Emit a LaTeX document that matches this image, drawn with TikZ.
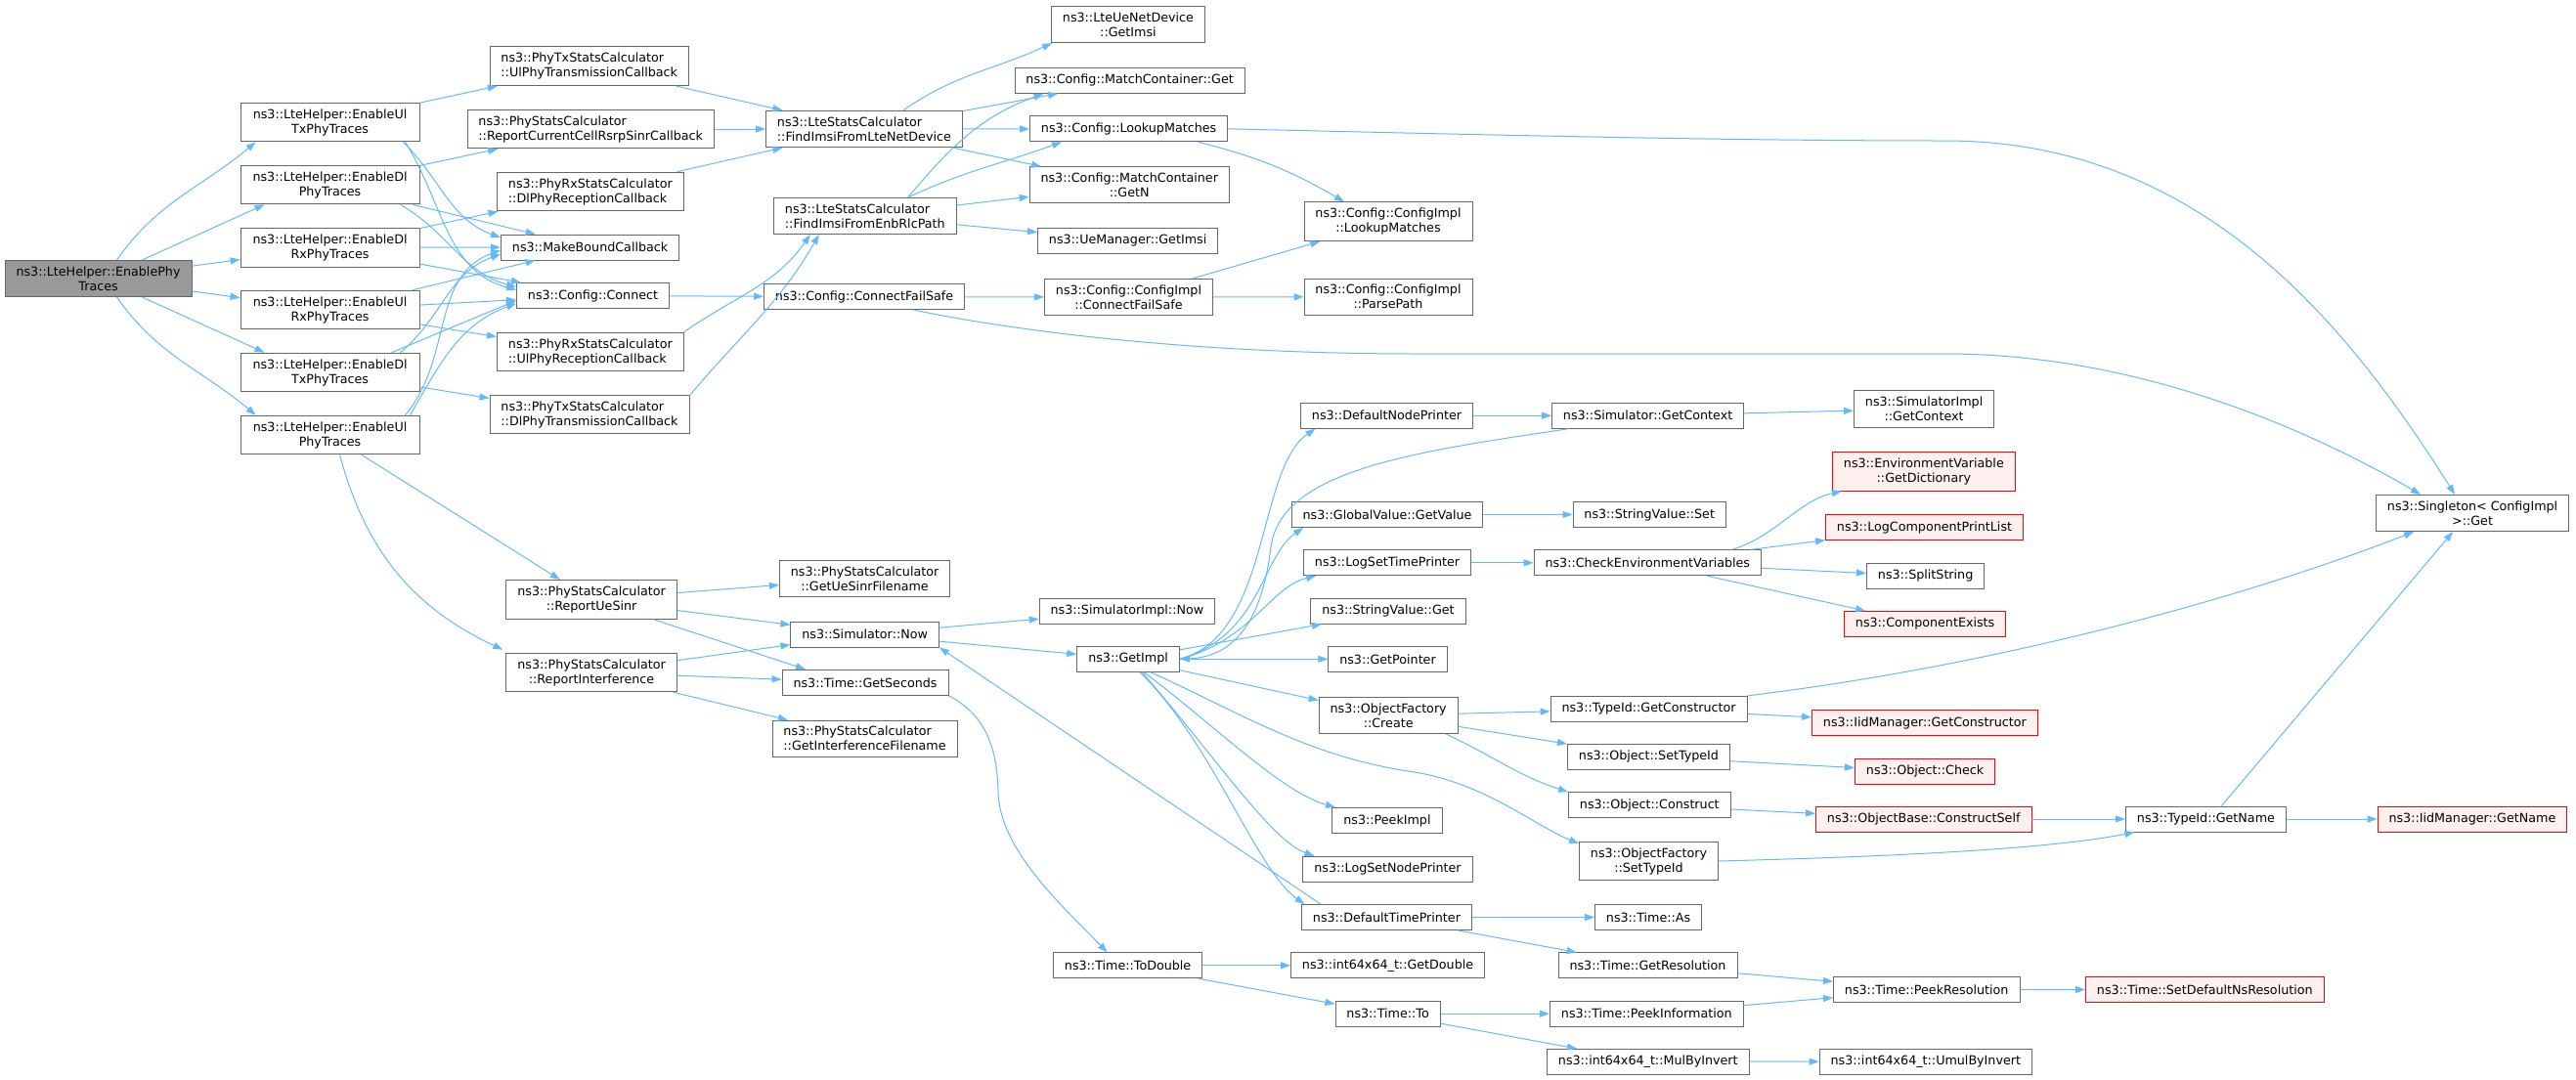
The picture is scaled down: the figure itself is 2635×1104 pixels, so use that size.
\documentclass[tikz,border=0pt]{standalone}
\usepackage{fontspec}
\setmainfont{DejaVu Sans}
\usetikzlibrary{arrows.meta}
\definecolor{edgeblue}{HTML}{63B8FF}
\definecolor{boxgray}{HTML}{666666}
\definecolor{rootgray}{HTML}{999999}
\definecolor{redfill}{HTML}{FFF0F0}

\begin{document}
\begin{tikzpicture}[x=1pt,y=-1pt,
	fn/.style={draw=boxgray,line width=0.9pt,fill=white,anchor=west,align=center,
		inner xsep=11.5pt,inner ysep=6.2pt,minimum height=26pt,font=\fontsize{12.7}{15}\selectfont},
	fnroot/.style={fn,fill=rootgray},
	fnred/.style={fn,draw=red,fill=redfill},
	call/.style={draw=edgeblue,line width=1pt,-{Triangle[length=10pt,width=7pt]}}]
	\useasboundingbox (0,0) rectangle (2635,1104);
	
	\node[fnroot] (root) at (4.6,285) {ns3::LteHelper::EnablePhy\\Traces};
	\node[fn,minimum width=183pt] (ultx) at (245.6,125) {ns3::LteHelper::EnableUl\\TxPhyTraces};
	\node[fn,minimum width=183pt] (dlphy) at (245.6,189) {ns3::LteHelper::EnableDl\\PhyTraces};
	\node[fn,minimum width=183pt] (dlrx) at (245.6,253.3) {ns3::LteHelper::EnableDl\\RxPhyTraces};
	\node[fn,minimum width=183pt] (ulrx) at (245.6,317) {ns3::LteHelper::EnableUl\\RxPhyTraces};
	\node[fn,minimum width=183pt] (dltx) at (245.6,381) {ns3::LteHelper::EnableDl\\TxPhyTraces};
	\node[fn,minimum width=183pt] (ulphy) at (245.6,445) {ns3::LteHelper::EnableUl\\PhyTraces};
	
	\node[fn,align=left] (txul) at (500.5,67.7) {ns3::PhyTxStatsCalculator\\::UlPhyTransmissionCallback};
	\node[fn,align=left] (rsrp) at (477.5,132) {ns3::PhyStatsCalculator\\::ReportCurrentCellRsrpSinrCallback};
	\node[fn,align=left] (rxdl) at (508,196) {ns3::PhyRxStatsCalculator\\::DlPhyReceptionCallback};
	\node[fn] (mkcb) at (512,253) {ns3::MakeBoundCallback};
	\node[fn] (connect) at (528,302.5) {ns3::Config::Connect};
	\node[fn,align=left] (rxul) at (508,360) {ns3::PhyRxStatsCalculator\\::UlPhyReceptionCallback};
	\node[fn,align=left] (txdl) at (500.5,424) {ns3::PhyTxStatsCalculator\\::DlPhyTransmissionCallback};
	\node[fn] (uesinr) at (517.4,613.3) {ns3::PhyStatsCalculator\\::ReportUeSinr};
	\node[fn] (interf) at (517.4,688) {ns3::PhyStatsCalculator\\::ReportInterference};
	
	\node[fn,align=left] (fromdev) at (783,132) {ns3::LteStatsCalculator\\::FindImsiFromLteNetDevice};
	\node[fn,align=left] (fromrlc) at (791,221) {ns3::LteStatsCalculator\\::FindImsiFromEnbRlcPath};
	\node[fn] (failsafe) at (781,303.7) {ns3::Config::ConnectFailSafe};
	\node[fn] (sinrfile) at (796.9,591.8) {ns3::PhyStatsCalculator\\::GetUeSinrFilename};
	\node[fn] (simnow) at (808.4,649) {ns3::Simulator::Now};
	\node[fn] (seconds) at (799.6,698.3) {ns3::Time::GetSeconds};
	\node[fn,align=left] (interffile) at (789.5,755.7) {ns3::PhyStatsCalculator\\::GetInterferenceFilename};
	
	\node[fn] (ueimsi) at (1075,25) {ns3::LteUeNetDevice\\::GetImsi};
	\node[fn] (mcget) at (1037.5,82.3) {ns3::Config::MatchContainer::Get};
	\node[fn] (lookup) at (1053,131.8) {ns3::Config::LookupMatches};
	\node[fn] (mcgetn) at (1052.6,189.3) {ns3::Config::MatchContainer\\::GetN};
	\node[fn] (umimsi) at (1061,246.3) {ns3::UeManager::GetImsi};
	\node[fn] (cifailsafe) at (1068,304) {ns3::Config::ConfigImpl\\::ConnectFailSafe};
	\node[fn] (implnow) at (1062.7,625.2) {ns3::SimulatorImpl::Now};
	\node[fn] (getimpl) at (1101.3,674.3) {ns3::GetImpl};
	\node[fn] (todouble) at (1077,987.8) {ns3::Time::ToDouble};
	
	\node[fn] (cilookup) at (1333.5,226.7) {ns3::Config::ConfigImpl\\::LookupMatches};
	\node[fn] (parsepath) at (1333.5,303.7) {ns3::Config::ConfigImpl\\::ParsePath};
	\node[fn] (nodeprinter) at (1330,425.2) {ns3::DefaultNodePrinter};
	\node[fn] (getvalue) at (1320.7,526.5) {ns3::GlobalValue::GetValue};
	\node[fn] (settimeprinter) at (1333,575.8) {ns3::LogSetTimePrinter};
	\node[fn] (strget) at (1340.4,625.2) {ns3::StringValue::Get};
	\node[fn] (getpointer) at (1358.3,674.3) {ns3::GetPointer};
	\node[fn] (ofcreate) at (1348.7,732) {ns3::ObjectFactory\\::Create};
	\node[fn] (peekimpl) at (1362.4,839.5) {ns3::PeekImpl};
	\node[fn] (setnodeprinter) at (1332.4,889.2) {ns3::LogSetNodePrinter};
	\node[fn] (timeprinter) at (1331,938.5) {ns3::DefaultTimePrinter};
	\node[fn] (getdouble) at (1320,987.8) {ns3::int64x64\_t::GetDouble};
	\node[fn] (timeto) at (1365.5,1037.2) {ns3::Time::To};
	
	\node[fn] (getcontext) at (1587,425.2) {ns3::Simulator::GetContext};
	\node[fn] (strset) at (1608.5,526.5) {ns3::StringValue::Set};
	\node[fn] (checkenv) at (1568.6,575.8) {ns3::CheckEnvironmentVariables};
	\node[fn] (getctor) at (1585.6,725.3) {ns3::TypeId::GetConstructor};
	\node[fn] (settypeid) at (1603,774.3) {ns3::Object::SetTypeId};
	\node[fn] (construct) at (1604,823.7) {ns3::Object::Construct};
	\node[fn] (ofsettypeid) at (1615,881) {ns3::ObjectFactory\\::SetTypeId};
	\node[fn] (timeas) at (1631,938.5) {ns3::Time::As};
	\node[fn] (getres) at (1593.6,987.8) {ns3::Time::GetResolution};
	\node[fn] (peekinfo) at (1585,1037.2) {ns3::Time::PeekInformation};
	\node[fn] (mulinv) at (1582,1086.3) {ns3::int64x64\_t::MulByInvert};
	
	\node[fn] (implctx) at (1896,418.4) {ns3::SimulatorImpl\\::GetContext};
	\node[fnred] (getdict) at (1874,482.3) {ns3::EnvironmentVariable\\::GetDictionary};
	\node[fnred] (printlist) at (1867,539.7) {ns3::LogComponentPrintList};
	\node[fn] (split) at (1909,589.3) {ns3::SplitString};
	\node[fnred] (exists) at (1886,638.4) {ns3::ComponentExists};
	\node[fnred] (iidctor) at (1853,739.7) {ns3::IidManager::GetConstructor};
	\node[fnred] (check) at (1897,789.3) {ns3::Object::Check};
	\node[fnred] (constructself) at (1857,838) {ns3::ObjectBase::ConstructSelf};
	\node[fn,anchor=east] (peekres) at (2066.4,1012.5) {ns3::Time::PeekResolution};
	\node[fn,anchor=east] (umulinv) at (2079,1086) {ns3::int64x64\_t::UmulByInvert};
	
	\node[fn] (getname) at (2174,838) {ns3::TypeId::GetName};
	\node[fnred] (setdefres) at (2133,1012.5) {ns3::Time::SetDefaultNsResolution};
	\node[fn] (singleton) at (2430,525) {ns3::Singleton< ConfigImpl\\>::Get};
	\node[fnred] (iidname) at (2431.6,838) {ns3::IidManager::GetName};
	
	% EnablePhyTraces
	\draw[call] ([xshift=19pt]root.north) to[out=55,in=-140] ([xshift=16pt]ultx.south west);
	\draw[call] ([xshift=45pt]root.north) -- ([xshift=25pt]dlphy.south west);
	\draw[call] (root) -- (dlrx);
	\draw[call] (root) -- (ulrx);
	\draw[call] ([xshift=45pt]root.south) -- ([xshift=25pt]dltx.north west);
	\draw[call] ([xshift=19pt]root.south) to[out=-55,in=140] ([xshift=16pt]ulphy.north west);
	
	% EnableXxPhyTraces
	\draw[call] (ultx) -- (txul);
	\draw[call] ([xshift=-17pt]ultx.south east) to[out=-45,in=160] ([yshift=10pt]mkcb.west);
	\draw[call] ([xshift=-15pt]ultx.south east) to[out=-58,in=165] ([yshift=6pt]connect.west);
	\draw[call] (dlphy) -- (rsrp);
	\draw[call] (dlphy) -- (mkcb);
	\draw[call] ([xshift=-20pt]dlphy.south east) to[out=-30,in=165] ([yshift=9pt]connect.west);
	\draw[call] (dlrx) -- (rxdl);
	\draw[call] (dlrx) -- (mkcb);
	\draw[call] (dlrx) -- (connect);
	\draw[call] (ulrx) -- (mkcb);
	\draw[call] (ulrx) -- (connect);
	\draw[call] (ulrx) -- (rxul);
	\draw[call] ([xshift=-20pt]dltx.north east) to[out=40,in=-160] ([yshift=-7pt]mkcb.west);
	\draw[call] ([xshift=-29pt]dltx.north east) -- ([yshift=-5pt]connect.west);
	\draw[call] (dltx) -- (txdl);
	\draw[call] ([xshift=-15pt]ulphy.north east) to[out=50,in=-160] ([yshift=-3pt]mkcb.west);
	\draw[call] ([xshift=-10pt]ulphy.north east) to[out=60,in=-160] ([yshift=-8pt]connect.west);
	\draw[call] (ulphy) -- (uesinr);
	\draw[call] ([xshift=10pt]ulphy.south) to[out=-75,in=155] ([xshift=-3pt,yshift=3pt]interf.north west);
	
	% callbacks
	\draw[call] (txul) -- (fromdev);
	\draw[call] (rsrp) -- (fromdev);
	\draw[call] (rxdl) -- (fromdev);
	\draw[call] (rxul.north east) to[out=35,in=-125] ([xshift=-56pt]fromrlc.south);
	\draw[call] ([yshift=-1pt]txdl.north east) to[out=50,in=-120] ([xshift=-47pt]fromrlc.south);
	\draw[call] (connect) -- (failsafe);
	
	% LteStatsCalculator
	\draw[call] ([xshift=40pt]fromdev.north) to[out=35,in=-155] ([xshift=1pt]ueimsi.south west);
	\draw[call] (fromdev) -- (mcget);
	\draw[call] (fromdev) -- (lookup);
	\draw[call] (fromdev) -- (mcgetn);
	\draw[call] ([xshift=44pt]fromrlc.north) to[out=50,in=-160] ([xshift=30pt]mcget.south west);
	\draw[call] ([xshift=44pt]fromrlc.north) to[out=25,in=-160] ([xshift=33pt]lookup.south west);
	\draw[call] (fromrlc) -- (mcgetn);
	\draw[call] (fromrlc) -- (umimsi);
	
	% Config
	\draw[call] (lookup.east) .. controls (1600,140) and (1800,144) .. (1990,144)
		.. controls (2250,144) and (2400,330) .. ([xshift=-18pt]singleton.north);
	\draw[call] ([xshift=71pt]lookup.south) to[bend left=8] ([xshift=-45pt]cilookup.north);
	\draw[call] (failsafe) -- (cifailsafe);
	\draw[call] ([xshift=51pt]failsafe.south) .. controls (1020,335) and (1200,362) .. (1450,362)
		-- (1990,362) .. controls (2200,362) and (2380,450) .. ([xshift=-53pt]singleton.north);
	\draw[call] (cifailsafe) -- (cilookup);
	\draw[call] (cifailsafe) -- (parsepath);
	
	% PhyStatsCalculator
	\draw[call] (uesinr) -- (sinrfile);
	\draw[call] (uesinr) -- (simnow);
	\draw[call] ([xshift=63pt]uesinr.south) -- ([xshift=-61pt]seconds.north);
	\draw[call] (interf) -- (simnow);
	\draw[call] (interf) -- (seconds);
	\draw[call] (interf) -- (interffile);
	
	% Simulator::Now, GetImpl
	\draw[call] (simnow) -- (implnow);
	\draw[call] (simnow) -- (getimpl);
	\draw[call] (seconds.south east) .. controls (1005,730) and (1020,760) .. (1021,810)
		.. controls (1022,870) and (1090,930) .. ([xshift=-21pt]todouble.north);
	\draw[call] (getimpl.east) .. controls (1300,650) and (1285,480) .. ([xshift=-73pt]nodeprinter.south);
	\draw[call] (getimpl.east) .. controls (1290,650) and (1290,570) .. ([xshift=-86pt]getvalue.south);
	\draw[call] (getimpl.east) .. controls (1280,655) and (1300,600) .. ([xshift=-73pt]settimeprinter.south);
	\draw[call] (getimpl) -- ([xshift=-68pt]strget.south);
	\draw[call] (getimpl) -- (getpointer);
	\draw[call] (getimpl) -- (ofcreate);
	\draw[call] ([xshift=23pt]getimpl.south) .. controls (1270,730) and (1340,775) .. (1447,790)
		.. controls (1520,802) and (1570,845) .. ([yshift=18pt]ofsettypeid.west);
	\draw[call] ([xshift=16pt]getimpl.south) .. controls (1240,740) and (1310,810) .. ([xshift=-53pt]peekimpl.north);
	\draw[call] ([xshift=14pt]getimpl.south) .. controls (1240,770) and (1300,860) .. ([xshift=-75pt]setnodeprinter.north);
	\draw[call] ([xshift=12pt]getimpl.south) .. controls (1240,760) and (1285,890) .. ([xshift=-84pt]timeprinter.north);
	
	% printers
	\draw[call] (nodeprinter) -- (getcontext);
	\draw[call] (getcontext) -- (implctx);
	\draw[call] ([xshift=-81pt]getcontext.south) .. controls (1450,462) and (1310,480) .. (1300,560)
		.. controls (1290,640) and (1260,672) .. (getimpl.east);
	\draw[call] (getvalue) -- (strset);
	\draw[call] (settimeprinter) -- (checkenv);
	\draw[call] ([xshift=86pt]checkenv.north) .. controls (1815,550) and (1840,512) .. ([xshift=-84pt]getdict.south);
	\draw[call] (checkenv) -- (printlist);
	\draw[call] (checkenv) -- (split);
	\draw[call] (checkenv) -- (exists);
	
	% ObjectFactory, TypeId
	\draw[call] (ofcreate) -- (getctor);
	\draw[call] (ofcreate) -- (settypeid);
	\draw[call] ([xshift=59pt]ofcreate.south) to[out=-25,in=162] (construct.north west);
	\draw[call] (getctor.north east) .. controls (2050,680) and (2300,610) .. ([xshift=-60pt]singleton.south);
	\draw[call] (getctor) -- (iidctor);
	\draw[call] (settypeid) -- (check);
	\draw[call] (construct) -- (constructself);
	\draw[call] (constructself) -- (getname);
	\draw[call] (ofsettypeid.east) .. controls (1950,876) and (2100,868) .. ([xshift=-73pt]getname.south);
	\draw[call] ([xshift=16pt]getname.north) -- ([xshift=-20pt]singleton.south);
	\draw[call] (getname) -- (iidname);
	
	% Time
	\draw[call] (timeprinter) -- (timeas);
	\draw[call] (timeprinter) -- (getres);
	\draw[call] ([xshift=20pt]timeprinter.north west) -- (simnow.south east);
	\draw[call] (getres) -- (peekres);
	\draw[call] (peekinfo) -- (peekres);
	\draw[call] (peekres) -- (setdefres);
	\draw[call] (todouble) -- (getdouble);
	\draw[call] (todouble) -- (timeto);
	\draw[call] (timeto) -- (peekinfo);
	\draw[call] (timeto) -- (mulinv);
	\draw[call] (mulinv) -- (umulinv);
\end{tikzpicture}
\end{document}
